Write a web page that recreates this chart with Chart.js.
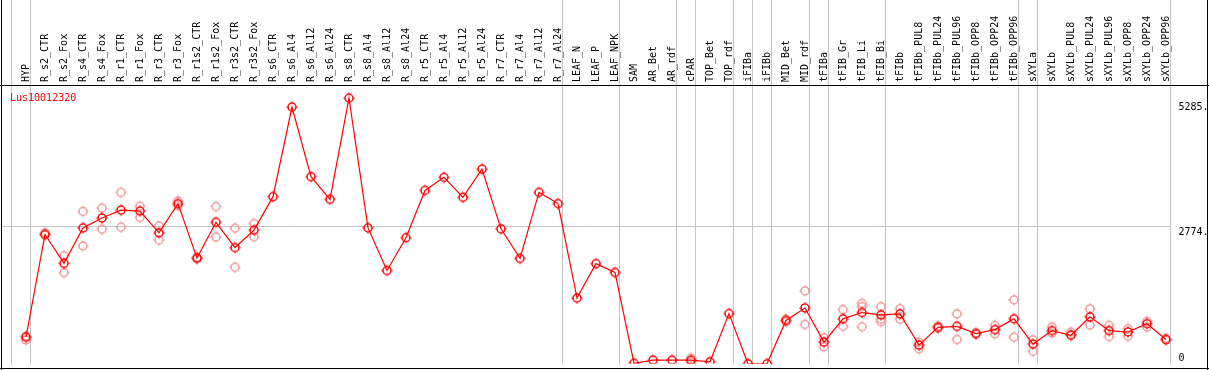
<!DOCTYPE html>
<html>
<head>
<meta charset="utf-8">
<style>
html, body { margin: 0; padding: 0; background: #fff; }
#wrap { width: 1209px; height: 370px; }
</style>
<script src="https://cdn.jsdelivr.net/npm/chart.js@4/dist/chart.umd.min.js"></script>
</head>
<body>
<div id="wrap"><canvas id="exprChart" width="1209" height="370"></canvas></div>
<script>
var geneName = 'Lus10012320';

var sampleLabels = ['HYP', 'R_s2_CTR', 'R_s2_Fox', 'R_s4_CTR', 'R_s4_Fox', 'R_r1_CTR', 'R_r1_Fox',
	'R_r3_CTR', 'R_r3_Fox', 'R_r1s2_CTR', 'R_r1s2_Fox', 'R_r3s2_CTR', 'R_r3s2_Fox',
	'R_s6_CTR', 'R_s6_Al4', 'R_s6_Al12', 'R_s6_Al24', 'R_s8_CTR', 'R_s8_Al4', 'R_s8_Al12', 'R_s8_Al24',
	'R_r5_CTR', 'R_r5_Al4', 'R_r5_Al12', 'R_r5_Al24', 'R_r7_CTR', 'R_r7_Al4', 'R_r7_Al12', 'R_r7_Al24',
	'LEAF_N', 'LEAF_P', 'LEAF_NPK', 'SAM', 'AR_Bet', 'AR_rdf', 'cPAR', 'TOP_Bet', 'TOP_rdf',
	'iFIBa', 'iFIBb', 'MID_Bet', 'MID_rdf', 'tFIBa', 'tFIB_Gr', 'tFIB_Li', 'tFIB_Bi', 'tFIBb',
	'tFIBb_PUL8', 'tFIBb_PUL24', 'tFIBb_PUL96', 'tFIBb_OPP8', 'tFIBb_OPP24', 'tFIBb_OPP96',
	'sXYLa', 'sXYLb', 'sXYLb_PUL8', 'sXYLb_PUL24', 'sXYLb_PUL96', 'sXYLb_OPP8', 'sXYLb_OPP24', 'sXYLb_OPP96'];

// mean expression (red line)
var meanValues = [536, 2607, 2025, 2740, 2939, 3098, 3078, 2641, 3230, 2131, 2853, 2343, 2694,
	3369, 5176, 3773, 3316, 5355, 2740, 1880, 2542,
	3495, 3759, 3356, 3925, 2720, 2125, 3455, 3230,
	1324, 2019, 1841, 10, 73, 73, 73, 40, 1013,
	0, 0, 874, 1125, 437, 907, 1033, 987, 1006,
	377, 735, 755, 609, 689, 907,
	397, 669, 576, 947, 669, 641, 808, 490];

// replicates (pink circles)
var repHigh = [560, 2641, 2178, 3072, 3137, 3455, 3177, 2780, 3283, 2150, 3170, 2734, 2826,
	null, null, null, null, null, null, null, null,
	null, null, null, null, null, null, null, null,
	null, null, null, null, null, null, 113, null, null,
	null, null, 900, 1469, 523, 1092, 1218, 1152, 1112,
	437, 760, 1006, 625, 774, 1291,
	483, 741, 640, 1106, 774, 709, 854, 510];
var repLow = [480, 2600, 1841, 2377, 2714, 2754, 2952, 2495, 3190, 2115, 2555, 1946, 2562,
	null, null, null, null, null, null, null, null,
	null, null, null, null, null, null, null, null,
	null, null, null, null, null, null, 40, null, null,
	null, null, 850, 794, 344, 755, 748, 848, 900,
	304, 715, 490, 595, 602, 536,
	252, 622, 590, 781, 550, 556, 741, 480];
var repThird = [null, null, null, null, null, null, null, null, null, null, null, null, null,
	null, null, null, null, null, null, null, null,
	null, null, null, null, null, null, null, null,
	null, null, null, null, null, null, null, null, null,
	null, null, null, null, null, null, 1152, 900, null,
	null, null, null, null, null, null,
	null, null, null, null, null, null, null, null];

// index of the last sample in each group (-1 = before the first)
var groupEnds = [-1, 0, 28, 31, 34, 35, 37, 38, 39, 41, 42, 45, 52, 53, 60];

var yTickValues = [0, 2774, 5285];
var yTickLabels = ['0', '2774.', '5285.'];
var yMax = 5620;

var monoFont = '10px "DejaVu Sans Mono", monospace';

// 丸＋小さなヒゲのマーカー
function makeMarker(color) {
	var c = document.createElement('canvas');
	c.width = 14;
	c.height = 14;
	var g = c.getContext('2d');
	g.strokeStyle = color;
	g.lineWidth = 1.5;
	g.beginPath();
	g.arc(7, 7, 4, 0, Math.PI * 2);
	g.stroke();
	g.fillStyle = color;
	g.fillRect(6.5, 1.3, 1, 1.4);
	g.fillRect(6.5, 11.3, 1, 1.4);
	g.fillRect(1.3, 6.5, 1.4, 1);
	g.fillRect(11.3, 6.5, 1.4, 1);
	return c;
}

var redMarker = makeMarker('#ff0000');
var pinkMarker = makeMarker('#f09898');

var framePlugin = {
	id: 'frame',
	beforeDatasetsDraw: function(chart) {
		var ctx = chart.ctx;
		var xs = chart.scales.x;
		var ys = chart.scales.y;
		var area = chart.chartArea;
		var step = xs.getPixelForValue(1) - xs.getPixelForValue(0);
		ctx.save();
		ctx.strokeStyle = '#c4c4c4';
		ctx.lineWidth = 1;
		ctx.beginPath();
		groupEnds.forEach(function(k) {
			var px = Math.floor(xs.getPixelForValue(k) + step * 0.25) + 0.5;
			ctx.moveTo(px, 0);
			ctx.lineTo(px, area.bottom + 1);
		});
		var gy = Math.floor(ys.getPixelForValue(yTickValues[1])) + 0.5;
		var gEnd = Math.floor(xs.getPixelForValue(sampleLabels.length - 1) + step * 0.25) + 0.5;
		ctx.moveTo(1, gy);
		ctx.lineTo(gEnd, gy);
		ctx.stroke();
		ctx.restore();
	},
	afterDraw: function(chart) {
		var ctx = chart.ctx;
		var ys = chart.scales.y;
		var area = chart.chartArea;
		var w = chart.width;
		var h = chart.height;
		ctx.save();
		// 枠線
		ctx.fillStyle = '#000';
		ctx.fillRect(0, Math.round(area.top), w, 1);
		ctx.fillRect(1, 0, 1, h);
		ctx.fillRect(w - 2, 0, 1, h);
		ctx.fillRect(0, h - 2, w, 1);
		// 縦軸ラベル
		ctx.font = monoFont;
		ctx.textAlign = 'left';
		ctx.textBaseline = 'alphabetic';
		yTickValues.forEach(function(v, i) {
			var py = ys.getPixelForValue(v);
			if (py > area.bottom - 10) {
				ctx.fillText(yTickLabels[i], area.right + 3, py - 3);
			} else {
				ctx.fillText(yTickLabels[i], area.right + 3, py + 8.5);
			}
		});
		// 遺伝子名
		ctx.fillStyle = '#ff0000';
		ctx.fillText(geneName, 10, area.top + 15.5);
		ctx.restore();
	}
};

var ctx = document.getElementById('exprChart').getContext('2d');

function repSet(values) {
	return {
		data: values,
		showLine: false,
		pointStyle: pinkMarker,
		pointRadius: 5,
		borderColor: '#f09898',
		backgroundColor: '#f09898'
	};
}

var myChart = new Chart(ctx, {
	type: 'line',
	data: {
		labels: sampleLabels,
		datasets: [{
			label: geneName,
			data: meanValues,
			borderColor: '#ff0000',
			borderWidth: 1.2,
			pointStyle: redMarker,
			pointRadius: 5,
			tension: 0
		}, repSet(repHigh), repSet(repLow), repSet(repThird)]
	},
	options: {
		responsive: false,
		animation: false,
		devicePixelRatio: 1,
		events: [],
		layout: { padding: { left: 16.5, right: 0, top: 0, bottom: 2 } },
		plugins: {
			legend: { display: false },
			tooltip: { enabled: false }
		},
		scales: {
			x: {
				type: 'category',
				position: 'top',
				offset: true,
				grid: { display: false, drawTicks: false, tickLength: 0 },
				border: { display: false },
				ticks: {
					autoSkip: false,
					minRotation: 90,
					maxRotation: 90,
					padding: 3,
					labelOffset: 12,
					color: '#000',
					font: { family: '"DejaVu Sans Mono", monospace', size: 10 }
				},
				afterFit: function(scale) { scale.height = 85; }
			},
			y: {
				position: 'right',
				min: 0,
				max: yMax,
				grid: { display: false },
				border: { display: false },
				ticks: { display: false },
				afterBuildTicks: function(scale) {
					scale.ticks = yTickValues.map(function(v) { return { value: v }; });
				},
				afterFit: function(scale) { scale.width = 33.5; }
			}
		}
	},
	plugins: [framePlugin]
});
</script>
</body>
</html>
